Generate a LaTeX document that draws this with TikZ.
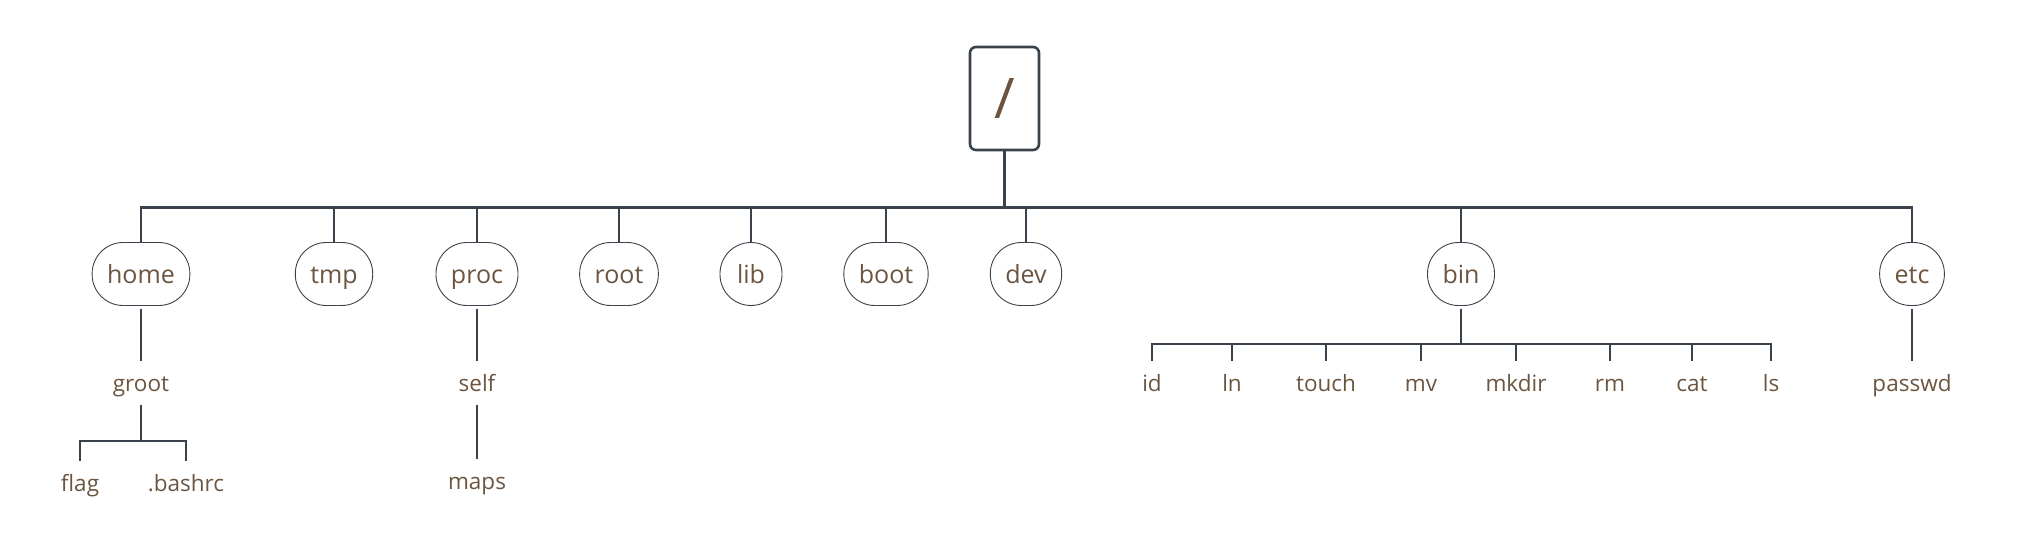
\documentclass[tikz,border=0pt]{standalone}
\usepackage{fontspec}
\setmainfont{Open Sans}
\definecolor{txt}{HTML}{6B5540}
\definecolor{ln}{HTML}{3A434B}
\begin{document}
\begin{tikzpicture}[x=1pt,y=-1pt,
 rootbox/.style={draw=ln, line width=2.6pt, rounded corners=6pt, minimum width=69pt, minimum height=103pt, inner sep=0pt, text height=40pt, text depth=0pt, font=\fontsize{56}{60}\selectfont, text=txt},
 dir/.style={draw=ln, line width=0.9pt, rounded corners=31pt, minimum height=63pt, minimum width=62pt, inner xsep=15pt, inner ysep=0pt, text height=19pt, text depth=0pt, font=\fontsize{25}{30}\selectfont, text=txt},
 leaf/.style={font=\fontsize{22.5}{26}\selectfont, text=txt, inner xsep=2pt, inner ysep=13.5pt, text height=16pt, text depth=0pt},
 trunk/.style={draw=ln, line width=2.8pt},
 twig/.style={draw=ln, line width=1.4pt},
]
\useasboundingbox (0,0) rectangle (2020,549);
\node[rootbox] (root) at (1004.5,98.5) {/};
\coordinate (bus) at (0,207.5);
\foreach \n/\x/\t in {home/141/home, tmp/334/tmp, proc/477/proc, rootd/619/root, lib/751/lib, boot/886/boot, dev/1026/dev, bin/1461/bin, etc/1912/etc}{
  \node[dir] (\n) at (\x,274) {\t};
  \draw[trunk] (root.south) -- (root.south |- bus) -| (\n.north);
}
% home subtree
\node[leaf] (groot) at (141,383) {groot};
\node[leaf] (flag) at (80,483) {flag};
\node[leaf] (bashrc) at (186,483) {.bashrc};
\draw[twig, shorten <=3pt] (home.south) -- (groot.north);
\coordinate (gbar) at (0,441);
\draw[twig] (groot.south) -- (groot.south |- gbar) -| (flag.north);
\draw[twig] (groot.south) -- (groot.south |- gbar) -| (bashrc.north);
% proc subtree
\node[leaf] (self) at (477,383) {self};
\node[leaf] (maps) at (477,481) {maps};
\draw[twig, shorten <=3pt] (proc.south) -- (self.north);
\draw[twig] (self.south) -- (maps.north);
% bin subtree
\coordinate (bbar) at (0,344);
\foreach \n/\x in {id/1152, ln/1232, touch/1326, mv/1421, mkdir/1516, rm/1610, cat/1692, ls/1771}{
  \node[leaf] (\n) at (\x,383) {\n};
  \draw[twig, shorten <=3pt] (bin.south) -- (bin.south |- bbar) -| (\n.north);
}
\draw[draw=ln, line width=2.2pt, shorten <=3pt] (bin.south) -- (bin.south |- bbar);
% etc subtree
\node[leaf] (passwd) at (1912,383) {passwd};
\draw[twig, shorten <=3pt] (etc.south) -- (passwd.north);
\end{tikzpicture}
\end{document}
